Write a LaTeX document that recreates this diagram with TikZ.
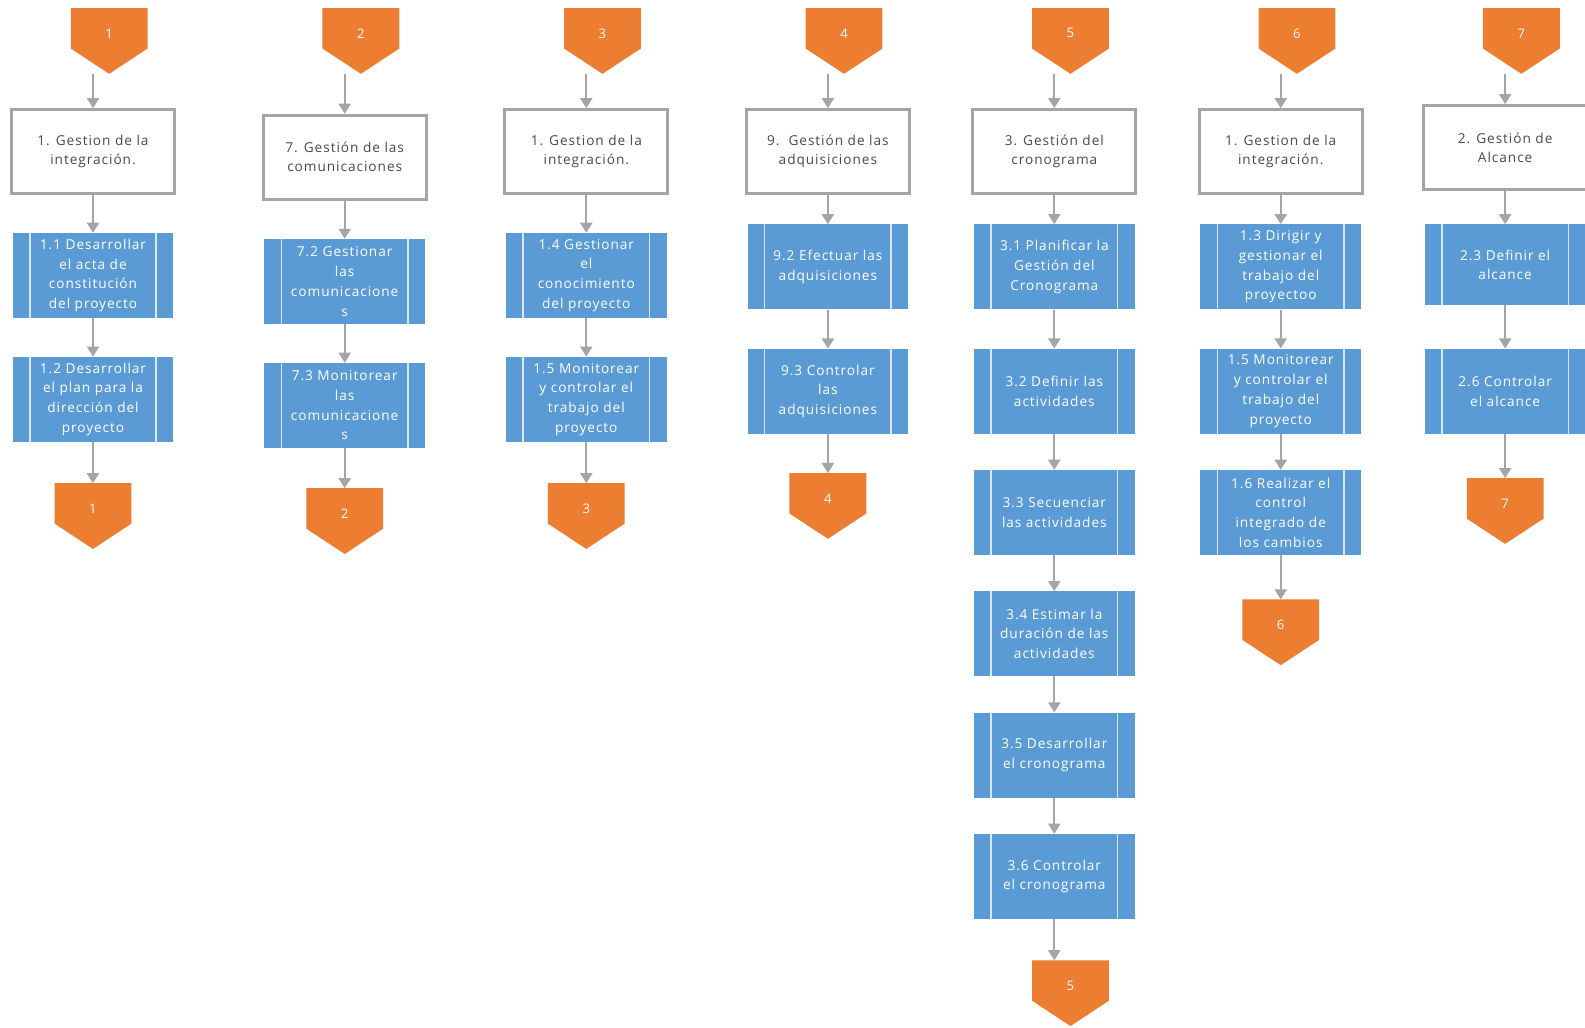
\documentclass[tikz,border=0pt]{standalone}
\usepackage{fontspec}
\setmainfont{Open Sans}[LetterSpace=7]
\usetikzlibrary{arrows.meta}
\definecolor{orng}{HTML}{ED7D31}
\definecolor{blu}{HTML}{5B9BD5}
\definecolor{bline}{HTML}{D9E8F6}
\definecolor{gry}{HTML}{A5A5A5}
\definecolor{txtg}{HTML}{4A4A4A}
\newcommand\offpg[4]{%
  \fill[orng] (#2-38,#3) -- (#2+38,#3) -- (#2+38,#3+40) -- (#2,#3+65) -- (#2-38,#3+40) -- cycle;
  \node[plabel] (#1) at (#2,#3+25) {#4};
  \coordinate (#1-tip) at (#2,#3+65);
  \coordinate (#1-top) at (#2,#3);
}
\begin{document}
\begin{tikzpicture}[x=1pt,y=-1pt,
  hdr/.style={draw=gry, line width=3pt, fill=white, text=txtg, align=center,
    minimum width=161pt, minimum height=83pt, inner sep=0pt,
    font=\fontsize{13.5}{19}\selectfont},
  proc/.style={fill=blu, text=white, align=center, minimum width=159pt,
    minimum height=84pt, inner sep=0pt, font=\fontsize{13.5}{19.5}\selectfont,
    path picture={\draw[bline, line width=1.5pt]
      ([xshift=17pt]path picture bounding box.north west) -- ([xshift=17pt]path picture bounding box.south west)
      ([xshift=-17pt]path picture bounding box.north east) -- ([xshift=-17pt]path picture bounding box.south east);}},
  plabel/.style={text=white, inner sep=0pt, font=\fontsize{13}{15}\selectfont},
  conn/.style={draw=gry, line width=2pt, -{Triangle[width=12pt,length=10pt]}}
]
\fill[white] (0,0) rectangle (1568,1016);
\useasboundingbox (0,0) rectangle (1568,1016);

% ---------- Column 1 ----------
\offpg{t1}{108}{8}{1}
\node[hdr] (h1) at (92,150) {1. Gestion de la\\integración.};
\node[proc] (p11) at (92,272.5) {1.1 Desarrollar\\el acta de\\constitución\\del proyecto};
\node[proc] (p12) at (92,395) {1.2 Desarrollar\\el plan para la\\dirección del\\proyecto};
\offpg{b1}{92}{478}{1}
\draw[conn] (h1.north |- t1-tip) -- (h1.north);
\draw[conn] (h1.south) -- (p11.north);
\draw[conn] (p11.south) -- (p12.north);
\draw[conn] (p12.south) -- (p12.south |- b1-top);

% ---------- Column 2 ----------
\offpg{t2}{357}{8}{2}
\node[hdr] (h2) at (341,155.5) {7. Gestión de las\\comunicaciones};
\node[proc] (p21) at (341,278.5) {7.2 Gestionar\\las\\comunicacione\\s};
\node[proc] (p22) at (341,401) {7.3 Monitorear\\las\\comunicacione\\s};
\offpg{b2}{341}{483}{2}
\draw[conn] (h2.north |- t2-tip) -- (h2.north);
\draw[conn] (h2.south) -- (p21.north);
\draw[conn] (p21.south) -- (p22.north);
\draw[conn] (p22.south) -- (p22.south |- b2-top);

% ---------- Column 3 ----------
\offpg{t3}{596}{8}{3}
\node[hdr] (h3) at (580,150) {1. Gestion de la\\integración.};
\node[proc] (p31) at (580,272.5) {1.4 Gestionar\\el\\conocimiento\\del proyecto};
\node[proc] (p32) at (580,395) {1.5 Monitorear\\y controlar el\\trabajo del\\proyecto};
\offpg{b3}{580}{478}{3}
\draw[conn] (h3.north |- t3-tip) -- (h3.north);
\draw[conn] (h3.south) -- (p31.north);
\draw[conn] (p31.south) -- (p32.north);
\draw[conn] (p32.south) -- (p32.south |- b3-top);

% ---------- Column 4 ----------
\offpg{t4}{835}{8}{4}
\node[hdr] (h4) at (819,150) {9.\ \ Gestión de las\\adquisiciones};
\node[proc] (p41) at (819,264) {9.2 Efectuar las\\adquisiciones};
\node[proc] (p42) at (819,387) {9.3 Controlar\\las\\adquisiciones};
\offpg{b4}{819}{468}{4}
\draw[conn] (h4.north |- t4-tip) -- (h4.north);
\draw[conn] (h4.south) -- (p41.north);
\draw[conn] (p41.south) -- (p42.north);
\draw[conn] (p42.south) -- (p42.south |- b4-top);

% ---------- Column 5 ----------
\offpg{t5}{1059}{8}{5}
\node[hdr] (h5) at (1043,150) {3. Gestión del\\cronograma};
\node[proc] (p51) at (1043,264) {3.1 Planificar la\\Gestión del\\Cronograma};
\node[proc] (p52) at (1043,387) {3.2 Definir las\\actividades};
\node[proc] (p53) at (1043,507) {3.3 Secuenciar\\las actividades};
\node[proc] (p54) at (1043,627) {3.4 Estimar la\\duración de las\\actividades};
\node[proc] (p55) at (1043,747) {3.5 Desarrollar\\el cronograma};
\node[proc] (p56) at (1043,867) {3.6 Controlar\\el cronograma};
\offpg{b5}{1059}{950}{5}
\draw[conn] (h5.north |- t5-tip) -- (h5.north);
\draw[conn] (h5.south) -- (p51.north);
\draw[conn] (p51.south) -- (p52.north);
\draw[conn] (p52.south) -- (p53.north);
\draw[conn] (p53.south) -- (p54.north);
\draw[conn] (p54.south) -- (p55.north);
\draw[conn] (p55.south) -- (p56.north);
\draw[conn] (p56.south) -- (p56.south |- b5-top);

% ---------- Column 6 ----------
\offpg{t6}{1283}{8}{6}
\node[hdr] (h6) at (1267,150) {1. Gestion de la\\integración.};
\node[proc] (p61) at (1267,264) {1.3 Dirigir y\\gestionar el\\trabajo del\\proyectoo};
\node[proc] (p62) at (1267,387) {1.5 Monitorear\\y controlar el\\trabajo del\\proyecto};
\node[proc] (p63) at (1267,507) {1.6 Realizar el\\control\\integrado de\\los cambios};
\offpg{b6}{1267}{593}{6}
\draw[conn] (h6.north |- t6-tip) -- (h6.north);
\draw[conn] (h6.south) -- (p61.north);
\draw[conn] (p61.south) -- (p62.north);
\draw[conn] (p62.south) -- (p63.north);
\draw[conn] (p63.south) -- (p63.south |- b6-top);

% ---------- Column 7 ----------
\offpg{t7}{1505}{8}{7}
\node[hdr] (h7) at (1489,146) {2. Gestión de\\Alcance};
\node[proc, minimum height=80pt] (p71) at (1489,262) {2.3 Definir el\\alcance};
\node[proc] (p72) at (1489,387) {2.6 Controlar\\el alcance};
\offpg{b7}{1489}{473}{7}
\draw[conn] (h7.north |- t7-tip) -- (h7.north);
\draw[conn] (h7.south) -- (p71.north);
\draw[conn] (p71.south) -- (p72.north);
\draw[conn] (p72.south) -- (p72.south |- b7-top);
\end{tikzpicture}
\end{document}
